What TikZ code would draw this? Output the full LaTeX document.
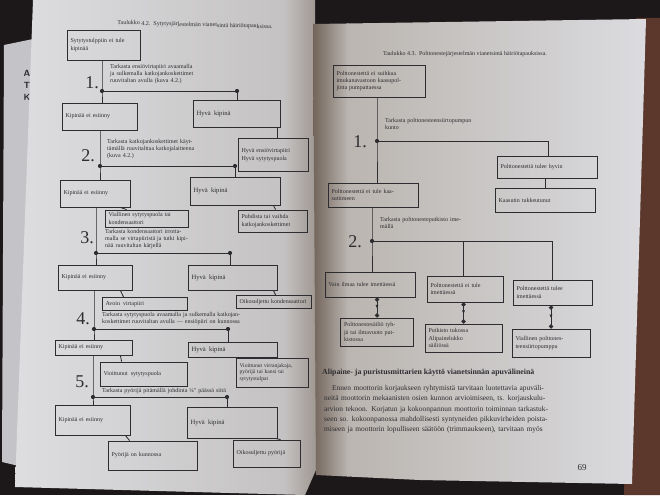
\documentclass[tikz,border=0pt]{standalone}
\usepackage{fontspec}
\setmainfont{Liberation Serif}
\usetikzlibrary{arrows.meta,decorations.markings}
\definecolor{ink}{RGB}{45,44,48}
\definecolor{bgdark}{RGB}{28,24,26}
\definecolor{brownedge}{RGB}{92,56,44}
\definecolor{pagethree}{RGB}{196,196,200}
\definecolor{lpA}{RGB}{222,222,225}
\definecolor{lpB}{RGB}{196,194,194}
\definecolor{lpC}{RGB}{158,150,144}
\definecolor{rpA}{RGB}{112,98,88}
\definecolor{rpB}{RGB}{186,181,176}
\definecolor{rpC}{RGB}{220,220,224}
\newcommand{\jline}[2]{\makebox[#1][s]{#2}}
\tikzset{
 ln/.style={draw=ink, line width=0.85pt},
 bx/.style={draw=ink, line width=0.85pt, inner xsep=3.5pt, inner ysep=1.5pt, font=\fontsize{6}{7.4}\selectfont, text=ink, align=left},
 bxs/.style={bx, font=\fontsize{5.6}{6.7}\selectfont},
 stepnum/.style={font=\fontsize{18}{18}\selectfont, text=ink, inner sep=0pt},
 steptext/.style={font=\fontsize{6}{7}\selectfont, text=ink, align=left, anchor=north west, inner sep=0pt},
 jdot/.style={circle, fill=ink, inner sep=0pt, minimum size=4.2pt},
 dotarrow/.style={draw=ink, line width=0.85pt, {Circle[length=4.2pt]}-{Circle[length=4.2pt]}, postaction={decorate}, decoration={markings, mark=at position 0.55 with {\arrow{Latex[length=3.6pt,width=3.2pt]}}}},
}
\begin{document}
\begin{tikzpicture}[x=1pt,y=-1pt]
\useasboundingbox (0,0) rectangle (660,495);
% ---------- photo background ----------
\fill[bgdark] (0,0) rectangle (660,495);
\fill[brownedge] (636,18) -- (660,18) -- (660,495) -- (624,495) -- cycle;
\fill[pagethree] (4,45) -- (38,38) -- (36,470) -- (2,462) -- cycle;
\node[font=\sffamily\bfseries\fontsize{9}{9}\selectfont, text=ink] (pa) at (27,73) {A};
\node[font=\sffamily\bfseries\fontsize{9}{9}\selectfont, text=ink] (pt) at (27,85) {T};
\node[font=\sffamily\bfseries\fontsize{9}{9}\selectfont, text=ink] (pk) at (27,97) {K};
% left page
\begin{scope}
\clip (33,0) -- (315,0) -- (316,470) -- (305,495) -- (230,493) -- (15,487) -- cycle;
\shade[left color=lpA, right color=lpB] (10,0) rectangle (285,495);
\shade[left color=lpB, right color=lpC] (284,0) rectangle (317,495);
\end{scope}
% right page
\begin{scope}
\clip (313,24) -- (646,19) -- (632,484) -- (420,480) -- (316,475) -- cycle;
\shade[left color=rpA, right color=rpB] (312,0) rectangle (348,495);
\shade[left color=rpB, right color=rpC] (347,0) rectangle (650,495);
\end{scope}

% ================= LEFT PAGE: Taulukko 4.2 =================
\node[font=\fontsize{6}{7}\selectfont, text=ink, rotate=-1.5] (ltitle) at (195,25) {Taulukko 4.2.\enspace Sytytysjärjestelmän vianetsintä häiriötapauksissa.};

\node[bx, minimum width=73pt, minimum height=30pt, text width=66pt] (s0) at (103.5,45) {\jline{66pt}{Sytytystulppiin ei tule}\\kipinää};

% step 1
\node[stepnum] (n1) at (92,83) {1.};
\node[steptext, text width=108pt] (t1) at (110,64) {\jline{108pt}{Tarkasta ensiövirtapiiri avaamalla}\\\jline{108pt}{ja sulkemalla katkojankoskettimet}\\ruuvitaltan avulla (kuva 4.2.)};
\node[jdot] (j1) at (102,91) {};
\node[jdot] (r1) at (237,91) {};
\node[bx, minimum width=75pt, minimum height=27pt, text width=68pt] (k1) at (99.5,116.5) {Kipinää ei esiinny};
\node[bx, minimum width=87pt, minimum height=27pt, text width=80pt, font=\fontsize{6.6}{7.4}\selectfont] (h1) at (236.5,113.5) {Hyvä\enspace kipinä};
\node[bx, minimum width=70pt, minimum height=33pt, text width=63pt] (res1) at (273,155) {Hyvä ensiövirtapiiri\\Hyvä sytytyspuola};
\draw[ln] (s0.south -| j1) -- (j1.center) -- (k1.north -| j1);
\draw[ln] (j1.center) -- (r1.center) -- (h1.north -| r1);
\coordinate (h1c) at ([xshift=-3pt]h1.south east);
\draw[ln] (h1c) -- (h1c |- res1.north);

% step 2
\node[stepnum] (n2) at (88,156) {2.};
\node[steptext, text width=108pt] (t2) at (107,139) {\jline{108pt}{Tarkasta katkojankoskettimet käyt-}\\\jline{108pt}{tämällä ruuvitalttaa katkojalaitteena}\\(kuva 4.2.)};
\node[jdot] (j2) at (100,166) {};
\node[jdot] (r2) at (235,166) {};
\node[bx, minimum width=70pt, minimum height=27pt, text width=63pt] (k2) at (95,193.5) {Kipinää ei esiinny};
\node[bx, minimum width=90pt, minimum height=28pt, text width=83pt, font=\fontsize{6.6}{7.4}\selectfont] (h2) at (235,191) {Hyvä\enspace kipinä};
\node[bx, minimum width=83pt, minimum height=17pt, text width=76pt] (res2L) at (146.5,218.5) {Viallinen sytytyspuola tai\\kondensaattori};
\node[bx, minimum width=69pt, minimum height=22pt, text width=62pt] (res2R) at (272.5,221) {Puhdista tai vaihda\\katkojankoskettimet};
\draw[ln] (k1.south -| j2) -- (j2.center) -- (k2.north -| j2);
\draw[ln] (j2.center) -- (r2.center) -- (h2.north -| r2);
\draw[ln] ([xshift=-10pt]k2.south east) -- ([xshift=22pt]res2L.north west);
\draw[ln] ([xshift=-7pt]h2.south east) -- ([xshift=38pt]res2R.north west);

% step 3
\node[stepnum] (n3) at (87,238) {3.};
\node[steptext, text width=110pt] (t3) at (105,229.5) {\jline{110pt}{Tarkasta kondensaattori irrotta-}\\\jline{110pt}{malla se virtapiiristä ja tutki kipi-}\\nää ruuvitaltan kärjellä};
\node[jdot] (j3) at (96,253) {};
\node[jdot] (r3) at (230,253) {};
\node[bx, minimum width=74pt, minimum height=25pt, text width=67pt] (k3) at (95,277.5) {Kipinää ei esiinny};
\node[bx, minimum width=89pt, minimum height=25pt, text width=82pt, font=\fontsize{6.6}{7.4}\selectfont] (h3) at (232.5,277.5) {Hyvä\enspace kipinä};
\node[bx, minimum width=85pt, minimum height=13pt, text width=78pt] (res3L) at (144.5,304) {Avoin\enspace virtapiiri};
\node[bx, minimum width=75pt, minimum height=13pt, text width=68pt] (res3R) at (273.5,302) {Oikosuljettu kondensaattori};
\draw[ln] (k2.south -| j3) -- (j3.center) -- (k3.north -| j3);
\draw[ln] (j3.center) -- (r3.center) -- (h3.north -| r3);
\draw[ln] ([xshift=-12pt]k3.south east) -- ([xshift=22pt]res3L.north west);
\draw[ln] ([xshift=-4pt]h3.south east) -- ([xshift=40pt]res3R.north west);

% step 4
\node[stepnum] (n4) at (83,319) {4.};
\node[steptext, text width=176pt] (t4) at (102,312) {\jline{176pt}{Tarkasta sytytyspuola avaamalla ja sulkemalla katkojan-}\\\jline{176pt}{koskettimet ruuvitaltan avulla --- ensiöpiiri on kunnossa}};
\node[jdot] (j4) at (94,329) {};
\node[jdot] (r4) at (228,329) {};
\node[bx, minimum width=77pt, minimum height=15pt, text width=70pt] (k4) at (93.5,347.5) {Kipinää ei esiinny};
\node[bx, minimum width=89pt, minimum height=15pt, text width=82pt, font=\fontsize{6.6}{7.4}\selectfont] (h4) at (232.5,349.5) {Hyvä\enspace kipinä};
\node[bx, minimum width=87pt, minimum height=24pt, text width=80pt] (res4L) at (143.5,374) {Vioittunut\enspace sytytyspuola};
\node[bxs, minimum width=72pt, minimum height=29pt, text width=65pt] (res4R) at (272,372.5) {Vioittunut virranjakaja,\\pyörijä tai kansi tai\\sytytystulpat};
\draw[ln] (k3.south -| j4) -- (j4.center) -- (k4.north -| j4);
\draw[ln] (j4.center) -- (r4.center) -- (h4.north -| r4);
\draw[ln] ([xshift=-12pt]k4.south east) -- ([xshift=22pt]res4L.north west);
\draw[ln] ([xshift=-4pt]h4.south east) -- ([xshift=40pt]res4R.north west);

% step 5
\node[stepnum] (n5) at (82,382) {5.};
\node[steptext, text width=175pt] (t5) at (102,388) {Tarkasta pyörijä pitämällä johdinta ¼\textquotedbl\ päässä siitä};
\node[jdot] (j5) at (93,397) {};
\node[jdot] (r5) at (227,397) {};
\node[bx, minimum width=75pt, minimum height=30pt, text width=68pt] (k5) at (92.5,420) {Kipinää ei esiinny};
\node[bx, minimum width=90pt, minimum height=31pt, text width=83pt, font=\fontsize{6.6}{7.4}\selectfont] (h5) at (232,422.5) {Hyvä\enspace kipinä};
\node[bx, minimum width=89pt, minimum height=29pt, text width=82pt] (res5L) at (152.5,455.5) {Pyörijä on kunnossa};
\node[bx, minimum width=67pt, minimum height=27pt, text width=60pt] (res5R) at (266.5,453.5) {Oikosuljettu pyörijä};
\draw[ln] (k4.south -| j5) -- (j5.center) -- (k5.north -| j5);
\draw[ln] (j5.center) -- (r5.center) -- (h5.north -| r5);
\draw[ln] ([xshift=-5pt]k5.south east) -- ([xshift=22pt]res5L.north west);
\draw[ln] ([xshift=-2pt]h5.south east) -- ([xshift=48pt]res5R.north west);

% ================= RIGHT PAGE: Taulukko 4.3 =================
\node[font=\fontsize{6}{7}\selectfont, text=ink] (rtitle) at (465,54) {Taulukko 4.3.\enspace Polttonestejärjestelmän vianetsintä häiriötapauksissa.};

\node[bx, minimum width=92pt, minimum height=32pt, text width=85pt] (sR) at (379,81) {\jline{85pt}{Polttonestettä ei suihkua}\\\jline{85pt}{imukanavastoon kaasupol-}\\jinta pumpattaessa};

\node[stepnum] (m1) at (360,142) {1.};
\node[steptext, text width=120pt] (tR1) at (385,118) {Tarkasta polttonesteensiirtopumpun\\kunto};
\node[jdot] (jR1) at (377,141) {};
\coordinate (rR1) at (548,141);
\node[bx, minimum width=100pt, minimum height=22pt, text width=93pt] (bR1) at (547,167) {\jline{93pt}{Polttonestettä tulee hyvin}};
\node[bx, minimum width=100pt, minimum height=24pt, text width=93pt] (bR1b) at (545,200) {Kaasutin tukkeutunut};
\node[bx, minimum width=90pt, minimum height=24pt, text width=83pt] (bL1) at (373,195) {\jline{83pt}{Polttonestettä ei tule kaa-}\\suttimeen};
\draw[ln] (sR.south -| jR1) -- (jR1.center) -- (bL1.north -| jR1);
\draw[ln] (jR1.center) -- (rR1) -- (bR1.north -| rR1);
\draw[ln] (bR1.south -| bR1b.north) -- (bR1b.north);

\node[stepnum] (m2) at (355,242) {2.};
\node[steptext, text width=110pt] (tR2) at (380,217) {\jline{110pt}{Tarkasta polttonesteputkisto ime-}\\mällä};
\node[jdot] (jR2) at (372,241) {};
\coordinate (mR2) at (463,241);
\coordinate (rR2) at (552,241);
\node[bx, minimum width=90pt, minimum height=25pt, text width=83pt] (c1) at (370,284.5) {Vain ilmaa tulee imettäessä};
\node[bx, minimum width=76pt, minimum height=26pt, text width=69pt] (c2) at (465,289) {Polttonestettä ei tule\\imettäessä};
\node[bx, minimum width=79pt, minimum height=25pt, text width=72pt] (c3) at (552.5,292.5) {\jline{72pt}{Polttonestettä tulee}\\imettäessä};
\draw[ln] (bL1.south -| jR2) -- (jR2.center) -- (c1.north -| jR2);
\draw[ln] (jR2.center) -- (rR2) -- (c3.north -| rR2);
\draw[ln] (mR2) -- (c2.north -| mR2);

\node[bx, minimum width=73pt, minimum height=28pt, text width=66pt] (e1) at (377,332) {\jline{66pt}{Polttonestesäiliö tyh-}\\\jline{66pt}{jä tai ilmavuoto put-}\\kistossa};
\node[bx, minimum width=77pt, minimum height=28pt, text width=70pt] (e2) at (463.5,338) {Putkisto tukossa\\Alipainelukko\\säiliössä};
\node[bx, minimum width=78pt, minimum height=28pt, text width=71pt] (e3) at (551,343) {\jline{71pt}{Viallinen polttones-}\\teensiirtopumppu};
\draw[dotarrow] (c1.south -| e1.north) -- (e1.north);
\draw[dotarrow] (c2.south -| e2.north) -- (e2.north);
\draw[dotarrow] (c3.south -| e3.north) -- (e3.north);

% text block
\node[font=\bfseries\fontsize{7.8}{9}\selectfont, text=ink, anchor=north west, inner sep=0pt] (head) at (322,369) {Alipaine- ja puristusmittarien käyttö vianetsinnän apuvälineinä};
\node[font=\fontsize{7.4}{10.4}\selectfont, text=ink, anchor=north west, inner sep=0pt, text width=262pt, align=left] (para) at (324,385) {\jline{262pt}{\hspace*{8pt}Ennen moottorin korjaukseen ryhtymistä tarvitaan luotettavia apuväli-}\\\jline{262pt}{neitä moottorin mekaanisten osien kunnon arvioimiseen, ts. korjauskulu-}\\\jline{262pt}{arvion tekoon. Korjatun ja kokoonpannun moottorin toiminnan tarkastuk-}\\\jline{262pt}{seen so. kokoonpanossa mahdollisesti syntyneiden pikkuvirheiden poista-}\\\jline{262pt}{miseen ja moottorin lopulliseen säätöön (trimmaukseen), tarvitaan myös}};
\node[font=\fontsize{9}{9}\selectfont, text=ink] (pnum) at (582,468) {69};
\end{tikzpicture}
\end{document}
